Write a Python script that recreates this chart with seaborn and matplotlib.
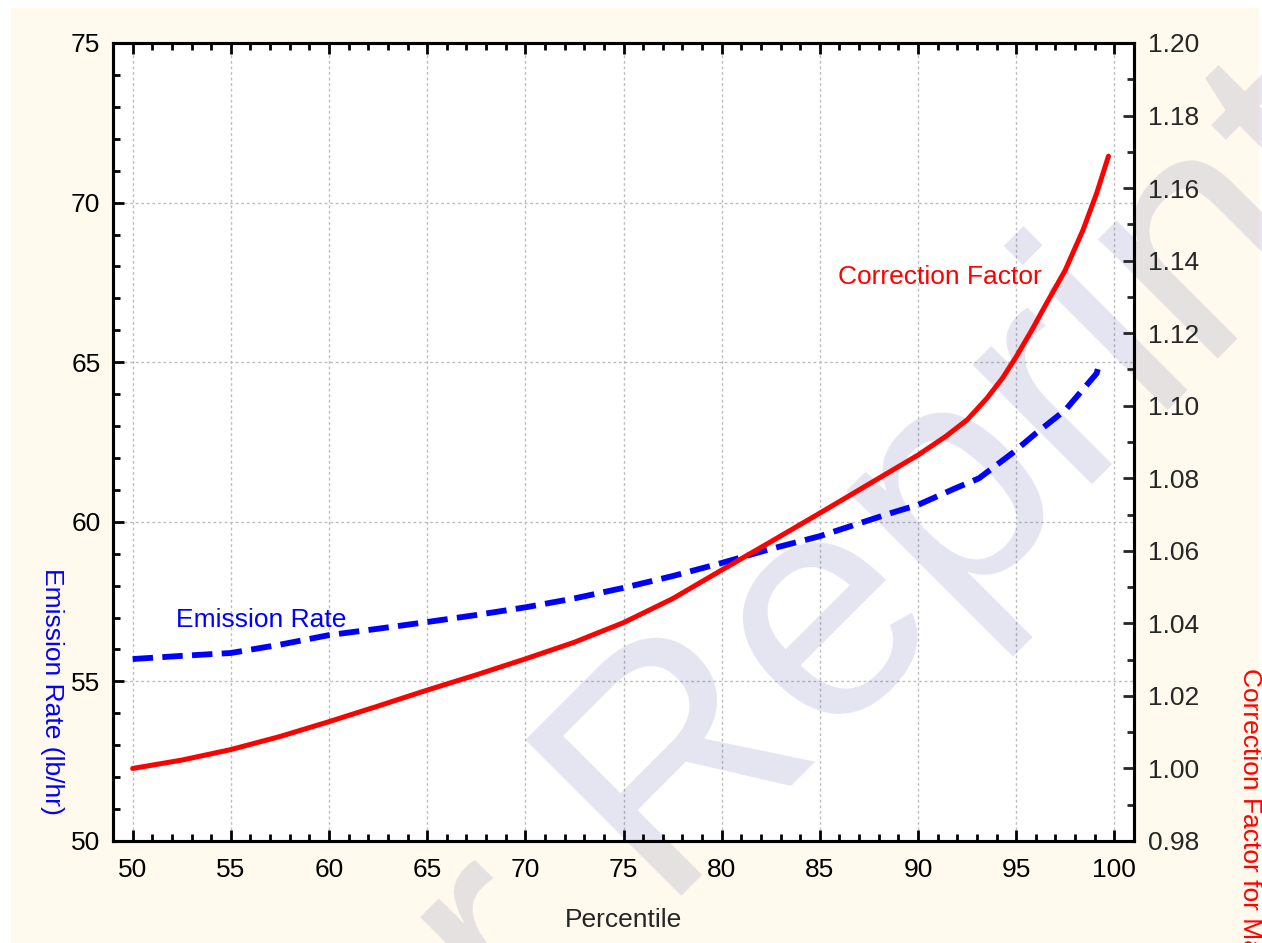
import matplotlib
matplotlib.use("Agg")
import matplotlib.pyplot as plt
import seaborn as sns
from matplotlib.ticker import MultipleLocator, FormatStrFormatter
from matplotlib.patches import Rectangle

# Emission rate (lb/hr) against percentile
pct_er = [50, 52.5, 55, 57.5, 60, 62.5, 65, 67.5, 70, 72.5, 75, 77.5, 80,
          82.5, 85, 88.6, 90, 91.9, 93.1, 94.8, 96, 97.5, 99.1, 99.2]
er = [55.70, 55.80, 55.89, 56.15, 56.45, 56.65, 56.86, 57.08, 57.32, 57.60,
      57.93, 58.30, 58.71, 59.15, 59.55, 60.27, 60.53, 61.05, 61.36, 62.15,
      62.77, 63.50, 64.65, 64.90]

# Correction factor against percentile
pct_cf = [50, 52.5, 55, 57.5, 60, 62.5, 65, 67.5, 70, 72.5, 75, 77.5, 80,
          82.5, 85, 88.0, 90, 91.4, 92.5, 93.5, 94.3, 95, 95.8, 96.5, 97.5,
          98.4, 99.1, 99.7]
cf = [1.0000, 1.0023, 1.0052, 1.0088, 1.0129, 1.0172, 1.0216, 1.0258, 1.0302,
      1.0348, 1.0402, 1.0468, 1.0547, 1.0625, 1.0704, 1.0800, 1.0864, 1.0915,
      1.0961, 1.1020, 1.1076, 1.1135, 1.1209, 1.1278, 1.1374, 1.1484, 1.1586,
      1.1688]

x_ticks = [50, 55, 60, 65, 70, 75, 80, 85, 90, 95, 100]

sns.set_style("ticks")
plt.rcParams["font.family"] = ["Liberation Sans", "DejaVu Sans"]

W, H = 1262, 943
fig = plt.figure(figsize=(W / 100, H / 100), dpi=100)
fig.patch.set_facecolor("white")
fig.add_artist(Rectangle((11 / W, 0), 1248 / W, 935 / H, transform=fig.transFigure,
                         facecolor="#FFFAED", edgecolor="none", zorder=-10))

ax = fig.add_axes([113 / W, 102 / H, 1021 / W, 798 / H])
ax.set_facecolor("white")
ax2 = ax.twinx()

sns.lineplot(x=pct_er, y=er, ax=ax, color="#0000FF", linewidth=4.2,
             linestyle=(0, (3.5, 1.6)), zorder=3)
sns.lineplot(x=pct_cf, y=cf, ax=ax2, color="#FF0000", linewidth=3.6, zorder=3)

ax.set_xlim(49, 101)
ax.set_ylim(50, 75)
ax2.set_ylim(0.98, 1.20)
ax.set_xticks(x_ticks)
ax.xaxis.set_minor_locator(MultipleLocator(1))
ax.yaxis.set_major_locator(MultipleLocator(5))
ax.yaxis.set_minor_locator(MultipleLocator(1))
ax2.yaxis.set_major_locator(MultipleLocator(0.02))
ax2.yaxis.set_minor_locator(MultipleLocator(0.01))
ax2.yaxis.set_major_formatter(FormatStrFormatter("%.2f"))

ax.grid(True, which="major", color="#BDBDBD", linestyle=(0, (2, 2)), linewidth=1)

ax.tick_params(axis="both", which="both", direction="in", width=2,
               color="black", labelcolor="black", labelsize=19)
ax.tick_params(axis="both", which="major", length=8)
ax.tick_params(axis="both", which="minor", length=5)
ax.tick_params(axis="x", which="both", top=True, bottom=True, pad=12)
ax.tick_params(axis="y", which="both", left=True, right=False, pad=9)
ax2.tick_params(axis="y", which="both", direction="in", width=2, right=True,
                left=False, labelsize=19, pad=10)
ax2.tick_params(axis="y", which="major", length=8)
ax2.tick_params(axis="y", which="minor", length=5)

for a in (ax, ax2):
    for s in a.spines.values():
        s.set_visible(True)
        s.set_linewidth(2.2)
        s.set_color("black")

ax.set_xlabel("Percentile", fontsize=19, labelpad=19)
ax.set_ylabel("")
ax2.set_ylabel("")

# Series annotations inside the plot
ax.text(52.2, 56.92, "Emission Rate", color="#0000FF", fontsize=19,
        ha="left", va="center", zorder=4)
ax2.text(85.95, 1.1355, "Correction Factor", color="#FF0000", fontsize=19,
         ha="left", va="center", zorder=4)

# Side axis titles
fig.text(52 / W, 1 - 691 / H, "Emission Rate (lb/hr)", rotation=270,
         color="#0000FF", fontsize=19, ha="center", va="center")
fig.text(1250 / W, 1 - 668 / H, "Correction Factor for Maximum Emission Rate",
         rotation=270, color="#FF0000", fontsize=19, ha="center", va="top")

# Diagonal watermark
ax.text(1391 / W, 1 - 185 / H, "Not for Reprint", transform=fig.transFigure,
        rotation=45, rotation_mode="anchor", ha="right", va="baseline",
        fontsize=230, color=(0.15, 0.15, 0.55), alpha=0.12, zorder=1,
        clip_on=False)

fig.savefig("out.png", dpi=100)
